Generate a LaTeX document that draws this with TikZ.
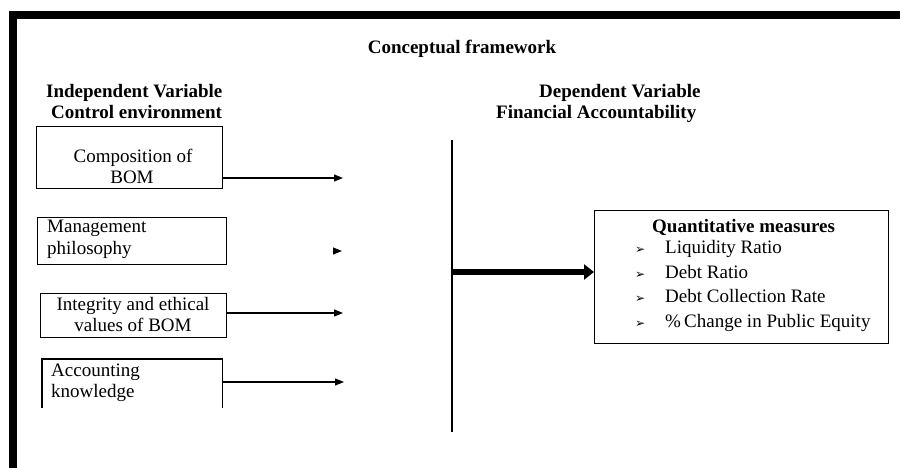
\documentclass[tikz,border=0pt]{standalone}
\usepackage{fontspec}
\setmainfont{Liberation Serif}
\newfontfamily\symfont{DejaVu Sans}
\usetikzlibrary{arrows.meta}
\begin{document}
\begin{tikzpicture}[x=1pt,y=-1pt,
  every node/.style={inner sep=0pt, font=\fontsize{19}{21}\selectfont},
  lbl/.style={anchor=base},
  lblw/.style={anchor=base west},
  hd/.style={font=\fontsize{19}{21}\selectfont\bfseries},
  box/.style={draw, line width=1.1pt, anchor=north west},
  plainbox/.style={anchor=north west},
  arr/.style={line width=1.2pt, -{Triangle[length=9pt,width=7pt]}},
  thickarr/.style={line width=6pt, -{Triangle[length=10pt,width=15pt]}},
  bul/.style={anchor=base west, font=\fontsize{12}{13}\symfont}]
\useasboundingbox (0,0) rectangle (900,468);
% frame bars
\fill (9,11) rectangle (900,19);
\fill (9,11) rectangle (17,468);
% headings
\node[hd, lbl] (title) at (462,54) {Conceptual framework};
\node[hd, lblw] (iv) at (46,98) {Independent Variable};
\node[hd, lblw] (ce) at (51,119) {Control environment};
\node[hd, lblw] (dv) at (539,98) {Dependent Variable};
\node[hd, lblw] (fa) at (496,119) {Financial Accountability};
% left boxes
\node[box, minimum width=186pt, minimum height=62pt] (b1) at (36,126) {};
\node[lbl] (t1a) at (133,163) {Composition of};
\node[lbl] (t1b) at (132,183) {BOM};
\node[box, minimum width=189pt, minimum height=47pt] (b2) at (37,217) {};
\node[lblw] (t2a) at (47,233) {Management};
\node[lblw] (t2b) at (47,254) {philosophy};
\node[box, minimum width=186pt, minimum height=44pt] (b3) at (40,293) {};
\node[lbl] (t3a) at (133,310) {Integrity and ethical};
\node[lbl] (t3b) at (133,331) {values of BOM};
\node[plainbox, minimum width=180pt, minimum height=49pt] (b4) at (42,359) {};
\draw[line width=1.1pt] (b4.south west) -- (b4.north west) -- (b4.north east) -- (b4.south east);
\node[lblw] (t4a) at (51,376) {Accounting};
\node[lblw] (t4b) at (51,397) {knowledge};
% arrows from left boxes
\coordinate (e1) at (343,178);
\coordinate (m1) at (333,251);
\coordinate (m2) at (342,251);
\coordinate (e3) at (343,313);
\coordinate (e4) at (344,382);
\draw[arr] (b1.east |- e1) -- (e1);
\draw[arr] (m1) -- (m2);
\draw[arr] (b3.east |- e3) -- (e3);
\draw[arr] (b4.east |- e4) -- (e4);
% vertical line
\coordinate (vt) at (452,140);
\coordinate (vb) at (452,432);
\draw[line width=1.3pt] (vt) -- (vb);
% right box
\node[box, minimum width=294pt, minimum height=133pt] (rb) at (594,210) {};
\coordinate (ta) at (452,272);
\draw[thickarr] (ta) -- (ta -| rb.west);
\node[hd, lblw] (qm) at (652,232) {Quantitative measures};
\node[bul] (k1) at (635,253) {➢};
\node[lblw] (q1) at (665,253) {Liquidity Ratio};
\node[bul] (k2) at (635,278) {➢};
\node[lblw] (q2) at (665,278) {Debt Ratio};
\node[bul] (k3) at (635,302) {➢};
\node[lblw] (q3) at (665,302) {Debt Collection Rate};
\node[bul] (k4) at (635,327) {➢};
\node[lblw] (q4) at (665,327) {\%\,Change in Public Equity};
\end{tikzpicture}
\end{document}
